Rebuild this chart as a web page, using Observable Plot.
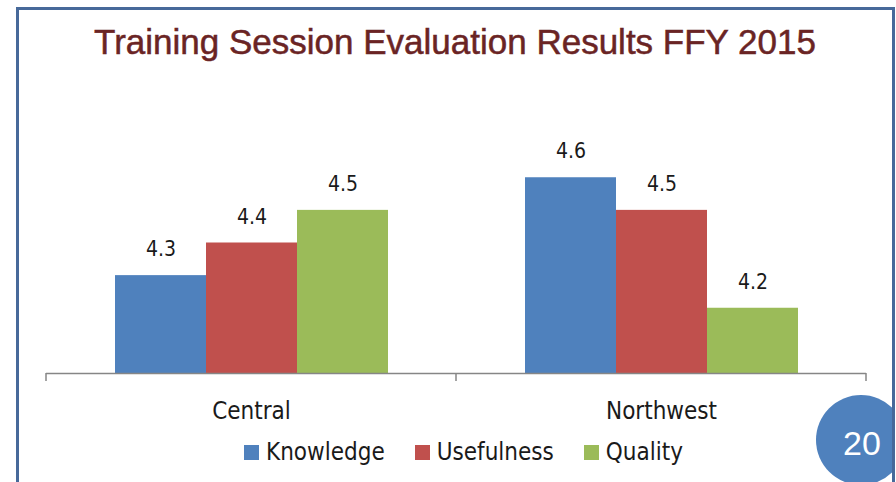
<!DOCTYPE html>
<html>
<head>
<meta charset="utf-8">
<script src="https://cdn.jsdelivr.net/npm/d3@7"></script>
<script src="https://cdn.jsdelivr.net/npm/@observablehq/plot@0.6"></script>
<style>
  html, body { margin: 0; padding: 0; background: #fff; }
  #page { position: relative; width: 896px; height: 482px; overflow: hidden; background: #fff; }
  #clip { position: absolute; left: 0; top: 0; width: 892px; height: 482px; overflow: hidden; }
  #badge { position: absolute; left: 816px; top: 395px; width: 90px; height: 90px; border-radius: 50%; background: #4f81bd; }
  #badgeText { position: absolute; left: 822px; width: 80px; top: 423px; text-align: center; color: #fff;
    font-family: "Liberation Sans", Arial, sans-serif; font-size: 34px; line-height: 40px; }
  #frame { position: absolute; left: 16px; top: 7px; width: 879px; height: 520px; box-sizing: border-box;
    border: 3px solid #47699a; }
  #title { position: absolute; left: 0; top: 24px; width: 910px; text-align: center;
    font-family: "Liberation Sans", Arial, sans-serif; font-size: 35px; line-height: 35px; color: #6a2424;
    -webkit-text-stroke: 0.5px #6a2424; }
  #chart { position: absolute; left: 0; top: 100px; }
  #legend { position: absolute; left: 244px; top: 439px; height: 26px; display: flex; gap: 30px;
    font-family: "Liberation Sans Narrow", "Arial Narrow", "DejaVu Sans Condensed", sans-serif;
    font-size: 24px; line-height: 26px; color: #1a1a1a; }
  .item { display: flex; align-items: center; gap: 7px; }
  .sw { width: 15px; height: 15px; display: inline-block; }
</style>
</head>
<body>
<div id="page">
  <div id="clip">
    <div id="badge"></div>
    <div id="badgeText">20</div>
  </div>
  <div id="frame"></div>
  <div id="title">Training Session Evaluation Results FFY 2015</div>
  <div id="chart"></div>
  <div id="legend"></div>
</div>
<script>
const regions = ["Central", "Northwest"];
const metrics = ["Knowledge", "Usefulness", "Quality"];
const knowledge = [4.3, 4.6];
const usefulness = [4.4, 4.5];
const quality = [4.5, 4.2];
const seriesColors = ["#4f81bd", "#c0504d", "#9bbb59"];

const series = [knowledge, usefulness, quality];
const data = [];
regions.forEach((r, i) => metrics.forEach((m, j) => data.push({region: r, metric: m, value: series[j][i]})));

const narrow = '"Liberation Sans Narrow", "Arial Narrow", "DejaVu Sans Condensed", sans-serif';

const plot = Plot.plot({
  width: 896,
  height: 330,
  marginLeft: 45,
  marginRight: 30,
  marginTop: 12,
  marginBottom: 57,
  style: {fontFamily: narrow, fontSize: "24px", color: "#1a1a1a", background: "transparent"},
  fx: {domain: regions, padding: 0, label: null, axis: "bottom", tickSize: 0, tickPadding: 28},
  x: {domain: metrics, paddingInner: 0, paddingOuter: 0.73, axis: null},
  y: {domain: [4, 4.8], axis: null},
  color: {domain: metrics, range: seriesColors},
  marks: [
    Plot.barY(data, {fx: "region", x: "metric", y1: 4, y2: "value", fill: "metric", inset: 0}),
    Plot.ruleY([4], {stroke: "#868686", strokeWidth: 1.5}),
    Plot.text(data, {fx: "region", x: "metric", y: "value", text: d => d.value.toFixed(1),
      dy: -26, fontSize: 21, fill: "#1a1a1a"})
  ]
});
document.getElementById("chart").appendChild(plot);

// category separator ticks at facet band edges, derived from the fx and y scales
const fxs = plot.scale("fx");
const ys = plot.scale("y");
const base = ys.apply(4);
const edges = regions.map(r => fxs.apply(r));
edges.push(fxs.apply(regions[regions.length - 1]) + fxs.bandwidth);
d3.select(plot).append("g")
  .selectAll("line").data(edges).join("line")
  .attr("x1", d => d).attr("x2", d => d)
  .attr("y1", base).attr("y2", base + 8)
  .attr("stroke", "#868686").attr("stroke-width", 1.5);

// legend from the color scale
const cs = plot.scale("color");
const legend = d3.select("#legend");
cs.domain.forEach((m, i) => {
  const it = legend.append("div").attr("class", "item");
  it.append("span").attr("class", "sw").style("background", cs.range[i]);
  it.append("span").text(m);
});
</script>
</body>
</html>
